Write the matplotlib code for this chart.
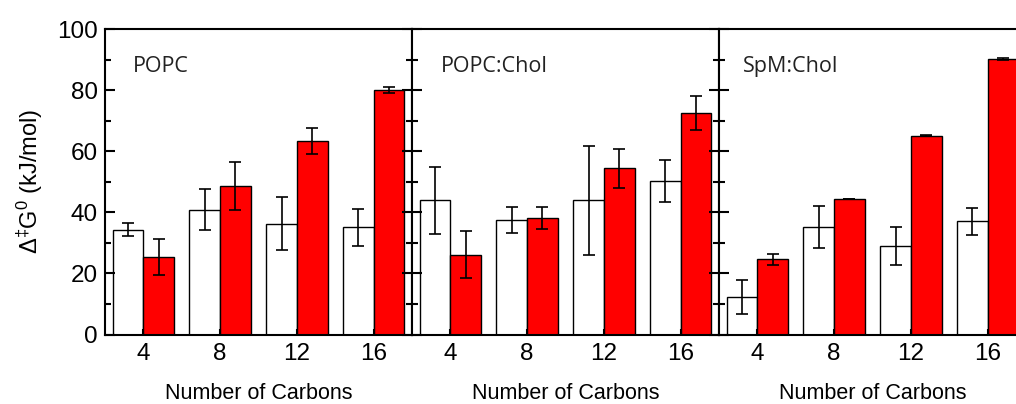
import numpy as np
import matplotlib.pyplot as plt
from matplotlib.ticker import MultipleLocator

plt.rcParams['font.family'] = ['Liberation Sans', 'DejaVu Sans']
plt.rcParams['mathtext.fontset'] = 'custom'
plt.rcParams['mathtext.rm'] = 'Liberation Sans'

carbons = [4, 8, 12, 16]
panels = ["POPC", "POPC:Chol", "SpM:Chol"]

# white bars (first series) and red bars (second series), with errors
white_vals = [
    [34.3, 40.9, 36.3, 35.1],
    [43.9, 37.4, 43.9, 50.2],
    [12.2, 35.1, 28.9, 37.0],
]
white_err = [
    [2.1, 6.7, 8.8, 6.1],
    [11.0, 4.2, 17.8, 6.9],
    [5.5, 6.8, 6.2, 4.5],
]
red_vals = [
    [25.4, 48.6, 63.3, 79.9],
    [26.1, 38.1, 54.4, 72.5],
    [24.6, 44.3, 65.1, 90.1],
]
red_err = [
    [6.0, 7.9, 4.2, 1.0],
    [7.7, 3.7, 6.3, 5.6],
    [1.7, 0.0, 0.2, 0.3],
]

fig = plt.figure(figsize=(10.16, 4.04), dpi=100)

lefts = [105/1016, 412/1016, 719/1016]
w = 307/1016
bottom = (404-334.5)/404
h = (334.5-29)/404
label_x = [0.09, 0.094, 0.078]

x = np.array(carbons, dtype=float)
bw = 1.6
ekw = dict(ecolor='black', elinewidth=1.2, capsize=4, capthick=1.2)

for i in range(3):
    ax = fig.add_axes([lefts[i], bottom, w, h])
    ax.bar(x - bw/2, white_vals[i], bw, yerr=white_err[i], color='white',
           edgecolor='black', linewidth=1.0, error_kw=ekw)
    ax.bar(x + bw/2, red_vals[i], bw, yerr=red_err[i], color='#ff0000',
           edgecolor='black', linewidth=1.0, error_kw=ekw)

    ax.set_xlim(2, 18)
    ax.set_ylim(0, 100)
    ax.set_xticks(carbons)
    ax.yaxis.set_major_locator(MultipleLocator(20))
    ax.yaxis.set_minor_locator(MultipleLocator(10))
    ax.tick_params(axis='x', direction='in', length=4, width=1.5,
                   labelsize=17.5, pad=6, top=False)
    ax.tick_params(axis='y', which='major', direction='in', length=7, width=1.5,
                   left=True, right=True, labelsize=17.5, pad=5)
    ax.tick_params(axis='y', which='minor', direction='in', length=4, width=1.5,
                   left=True, right=True)
    if i > 0:
        ax.tick_params(axis='y', labelleft=False)
    for s in ax.spines.values():
        s.set_linewidth(1.5)

    ax.set_xlabel("Number of Carbons", fontsize=15.5, labelpad=13)
    ax.text(label_x[i], 0.876, panels[i], transform=ax.transAxes,
            fontsize=15.5, family=['Open Sans', 'DejaVu Sans'],
            ha='left', va='center', color='#222222')

    if i == 0:
        ax.set_ylabel(r'$\mathregular{\Delta^{\ddagger}G^{0}}$ (kJ/mol)',
                      fontsize=17, labelpad=9)

fig.savefig("out.png", dpi=100)
